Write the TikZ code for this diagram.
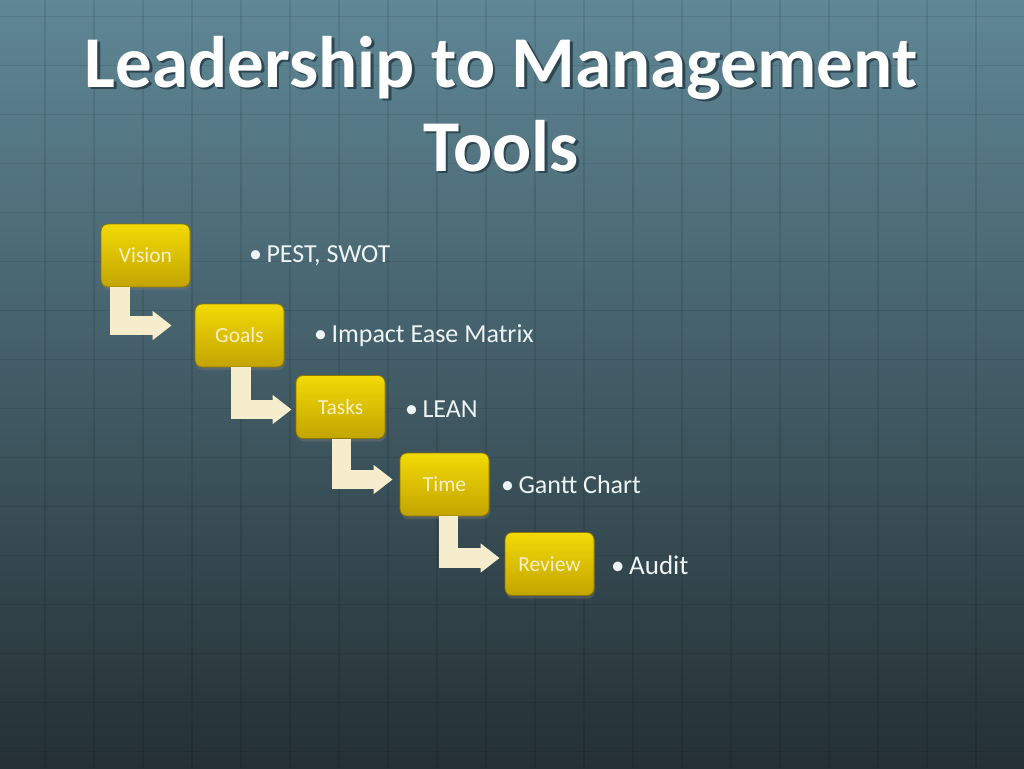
\documentclass[tikz,border=0pt]{standalone}
\usepackage{fontspec}
\setmainfont{Carlito}
\usetikzlibrary{arrows.meta,shadows}

\definecolor{bgtop}{HTML}{5F8796}
\definecolor{bgmid}{HTML}{43616C}
\definecolor{bgbot}{HTML}{243034}
\definecolor{boxtop}{HTML}{F2DA06}
\definecolor{boxbot}{HTML}{C2A400}
\definecolor{boxedge}{HTML}{8C7600}
\definecolor{boxtext}{HTML}{F9F0C6}
\definecolor{arrowfill}{HTML}{F5EDCC}
\definecolor{itemtext}{HTML}{EEF3F3}
\definecolor{titleshade}{HTML}{2E4651}

\newcommand{\shadowed}[1]{\makebox[0pt][l]{\hspace{2.5pt}\raisebox{-2.5pt}{\textcolor{titleshade}{#1}}}#1}

\tikzset{
  gridline/.style={draw=black, opacity=0.09, line width=1.6pt},
  stepbox/.style={rectangle, rounded corners=7pt, minimum width=89pt, minimum height=63pt,
    inner sep=0pt, top color=boxtop, bottom color=boxbot, draw=boxedge, line width=0.8pt,
    drop shadow={opacity=0.35, shadow xshift=1pt, shadow yshift=-3pt},
    text=boxtext, font=\fontsize{21.5}{25}\selectfont},
  steparrow/.style={draw=arrowfill, line width=19.5pt, line join=miter,
    -{Triangle[length=19pt,width=28pt]}},
  item/.style={anchor=base west, inner sep=0pt, text=itemtext, font=\fontsize{26}{31}\selectfont},
  titletext/.style={anchor=base, inner sep=0pt, text=white, font=\bfseries\fontsize{73}{88}\selectfont}
}

\begin{document}
\begin{tikzpicture}[x=1pt,y=-1pt]
  \useasboundingbox (0,0) rectangle (1024,768);
  \shade[top color=bgtop, middle color=bgmid, bottom color=bgbot] (0,0) rectangle (1024,768);
  \foreach \gx in {0,...,21}
    \draw[gridline] ({-4+49*\gx},0) -- ++(0,768);
  \foreach \gy in {0,...,15}
    \draw[gridline] (0,{16.5+49*\gy}) -- ++(1024,0);

  % title
  \node[titletext] (title) at (501,87) {\shadowed{Leadership to Management}};
  \node[titletext] (titletwo) at (501,171) {\shadowed{Tools}};

  % steps
  \node[stepbox] (vision) at (145.5,255.5) {Vision};
  \node[stepbox] (goals) at (239.5,335.5) {Goals};
  \node[stepbox] (tasks) at (340.5,407) {Tasks};
  \node[stepbox] (time) at (444.5,484.5) {Time};
  \node[stepbox] (review) at (549.5,564) {Review};

  \draw[steparrow] ([xshift=-25.5pt]vision.south) |- ([xshift=-23pt,yshift=10pt]goals.west);
  \draw[steparrow] ([xshift=1.5pt]goals.south) |- ([xshift=-4pt,yshift=-2.5pt]tasks.west);
  \draw[steparrow] ([xshift=1pt]tasks.south) |- ([xshift=-7pt,yshift=5pt]time.west);
  \draw[steparrow] ([xshift=4pt]time.south) |- ([xshift=-5pt,yshift=6pt]review.west);

  % tools
  \node[item] (pest) at (249,262) {•\hspace{0.17em}PEST, SWOT};
  \node[item] (impact) at (314,342) {•\hspace{0.17em}Impact Ease Matrix};
  \node[item] (lean) at (405,417) {•\hspace{0.17em}LEAN};
  \node[item] (gantt) at (501,493) {•\hspace{0.17em}Gantt Chart};
  \node[item, font=\fontsize{27}{32}\selectfont] (audit) at (611,574) {•\hspace{0.17em}Audit};
\end{tikzpicture}
\end{document}
